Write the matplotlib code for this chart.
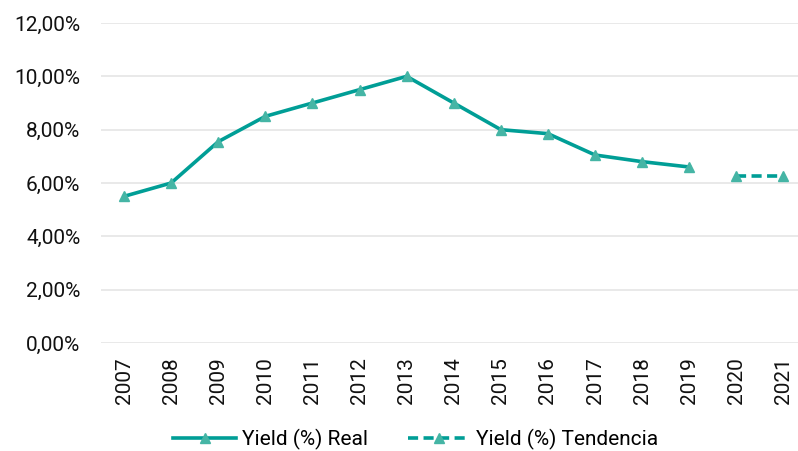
import matplotlib
matplotlib.use("Agg")
import matplotlib.pyplot as plt
from matplotlib.ticker import FuncFormatter

plt.rcParams['font.family'] = ['Roboto', 'DejaVu Sans']

years = ['2007', '2008', '2009', '2010', '2011', '2012', '2013', '2014',
         '2015', '2016', '2017', '2018', '2019', '2020', '2021']
real = [5.5, 6.0, 7.55, 8.5, 9.0, 9.5, 10.0, 9.0, 8.0, 7.85, 7.05, 6.8, 6.6, None, None]
tendencia = [None] * 13 + [6.25, 6.25]

line_color = '#009E96'
marker_color = '#45B5A5'

fig = plt.figure(figsize=(7.98, 4.51), dpi=100)
ax = fig.add_axes([100.5 / 798, 1 - 343 / 451, (807 - 100.5) / 798, 320 / 451])

x = list(range(len(years)))
xr = [i for i, v in zip(x, real) if v is not None]
yr = [v for v in real if v is not None]
xt = [i for i, v in zip(x, tendencia) if v is not None]
yt = [v for v in tendencia if v is not None]

ax.plot(xr, yr, color=line_color, lw=2.6, marker='^', markersize=7.2,
        markerfacecolor=marker_color, markeredgecolor=marker_color,
        label='Yield (%) Real', zorder=3)
ax.plot(xt, yt, color=line_color, lw=2.6, ls=(0, (2.8, 1.5)), marker='^', markersize=7.2,
        markerfacecolor=marker_color, markeredgecolor=marker_color,
        label='Yield (%) Tendencia', zorder=3)

ax.set_xlim(-0.5, len(years) - 0.5)
ax.set_ylim(0, 12)
ax.set_yticks([0, 2, 4, 6, 8, 10, 12])
ax.yaxis.set_major_formatter(FuncFormatter(lambda v, p: f"{v:.2f}".replace('.', ',') + '%'))
ax.set_xticks(x)
ax.set_xticklabels(years, rotation=90)
ax.grid(axis='y', color='#E3E3E3', lw=1.1)
ax.set_axisbelow(True)
for s in ax.spines.values():
    s.set_visible(False)
ax.tick_params(axis='both', length=0, labelsize=15, colors='#111111')
ax.tick_params(axis='y', pad=14.5)
ax.tick_params(axis='x', pad=10)

fig.legend(loc='center', bbox_to_anchor=(416 / 798, 1 - 439 / 451), ncol=2,
           frameon=False, fontsize=15, handlelength=3.0, columnspacing=1.9,
           handletextpad=0.3)

fig.savefig('out.png', dpi=100)
